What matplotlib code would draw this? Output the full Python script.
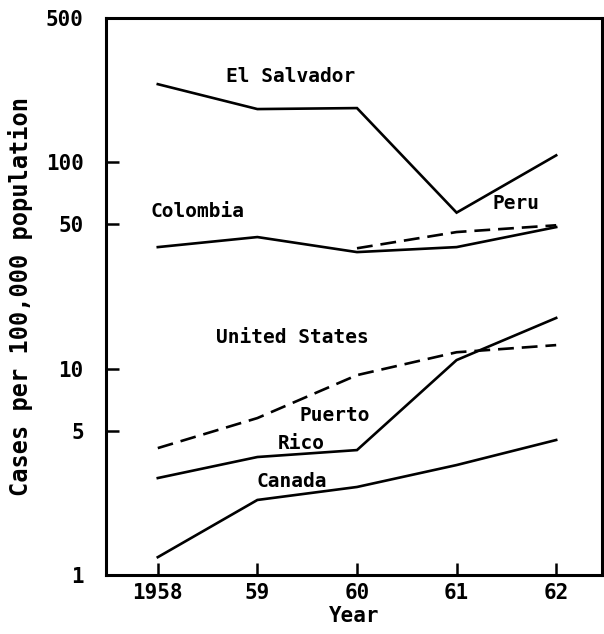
import matplotlib
matplotlib.use('Agg')
import matplotlib.pyplot as plt
from matplotlib.ticker import FixedLocator, NullLocator

# ── Data ──────────────────────────────────────────────────────────────
years = [1958, 1959, 1960, 1961, 1962]
year_labels = ['1958', '59', '60', '61', '62']

el_salvador   = [239, 181, 183, 57, 108]
colombia      = [38.8, 43.4, 36.7, 38.8, 48.5]
peru_years    = [1960, 1961, 1962]
peru          = [38.3, 45.9, 49.5]
united_states = [4.12, 5.76, 9.3, 12.0, 13.0]
puerto_rico   = [2.95, 3.73, 4.03, 11.0, 17.6]
canada        = [1.22, 2.31, 2.67, 3.41, 4.51]

y_ticks = [1, 5, 10, 50, 100, 500]
y_tick_labels = ['1', '5', '10', '50', '100', '500']

mono = 'DejaVu Sans Mono'

fig = plt.figure(figsize=(6.04, 6.34), dpi=100)
ax = fig.add_axes([106/604, 1 - 575/634, (602-106)/604, (575-18)/634])

solid = dict(color='black', lw=1.9, solid_joinstyle='miter')
dashed = dict(color='black', lw=1.9, linestyle=(0, (6, 3)))

ax.plot(years, el_salvador, **solid)
ax.plot(years, colombia, **solid)
ax.plot(peru_years, peru, **dashed)
ax.plot(years, united_states, **dashed)
ax.plot(years, puerto_rico, **solid)
ax.plot(years, canada, **solid)

ax.set_yscale('log')
ax.set_ylim(1, 500)
ax.set_xlim(1957.48, 1962.46)

ax.yaxis.set_major_locator(FixedLocator(y_ticks))
ax.yaxis.set_minor_locator(NullLocator())
ax.set_yticklabels(y_tick_labels, fontfamily=mono, fontweight='bold', fontsize=15)
ax.set_xticks(years)
ax.set_xticklabels(year_labels, fontfamily=mono, fontweight='bold', fontsize=15)
ax.tick_params(axis='both', direction='in', length=9, width=1.8, pad=6)
ax.tick_params(axis='y', pad=16)

for s in ax.spines.values():
    s.set_linewidth(2.2)

ax.set_xlabel('Year', fontfamily=mono, fontweight='bold', fontsize=15, labelpad=2)
ax.set_ylabel('Cases per 100,000 population', fontfamily=mono, fontweight='bold',
              fontsize=17)
ax.yaxis.set_label_coords(-0.147, 0.5)

# ── Line labels ───────────────────────────────────────────────────────
lab = dict(fontfamily=mono, fontweight='bold', fontsize=14, ha='center', va='center')
ax.text(1959.33, 259, 'El Salvador', **lab)
ax.text(1958.4, 58, 'Colombia', **lab)
ax.text(1961.6, 63.4, 'Peru', **lab)
ax.text(1959.35, 14.1, 'United States', **lab)
ax.text(1959.78, 5.96, 'Puerto', **lab)
ax.text(1959.44, 4.36, 'Rico', **lab)
ax.text(1959.35, 2.85, 'Canada', **lab)

fig.savefig('out.png', dpi=100)
